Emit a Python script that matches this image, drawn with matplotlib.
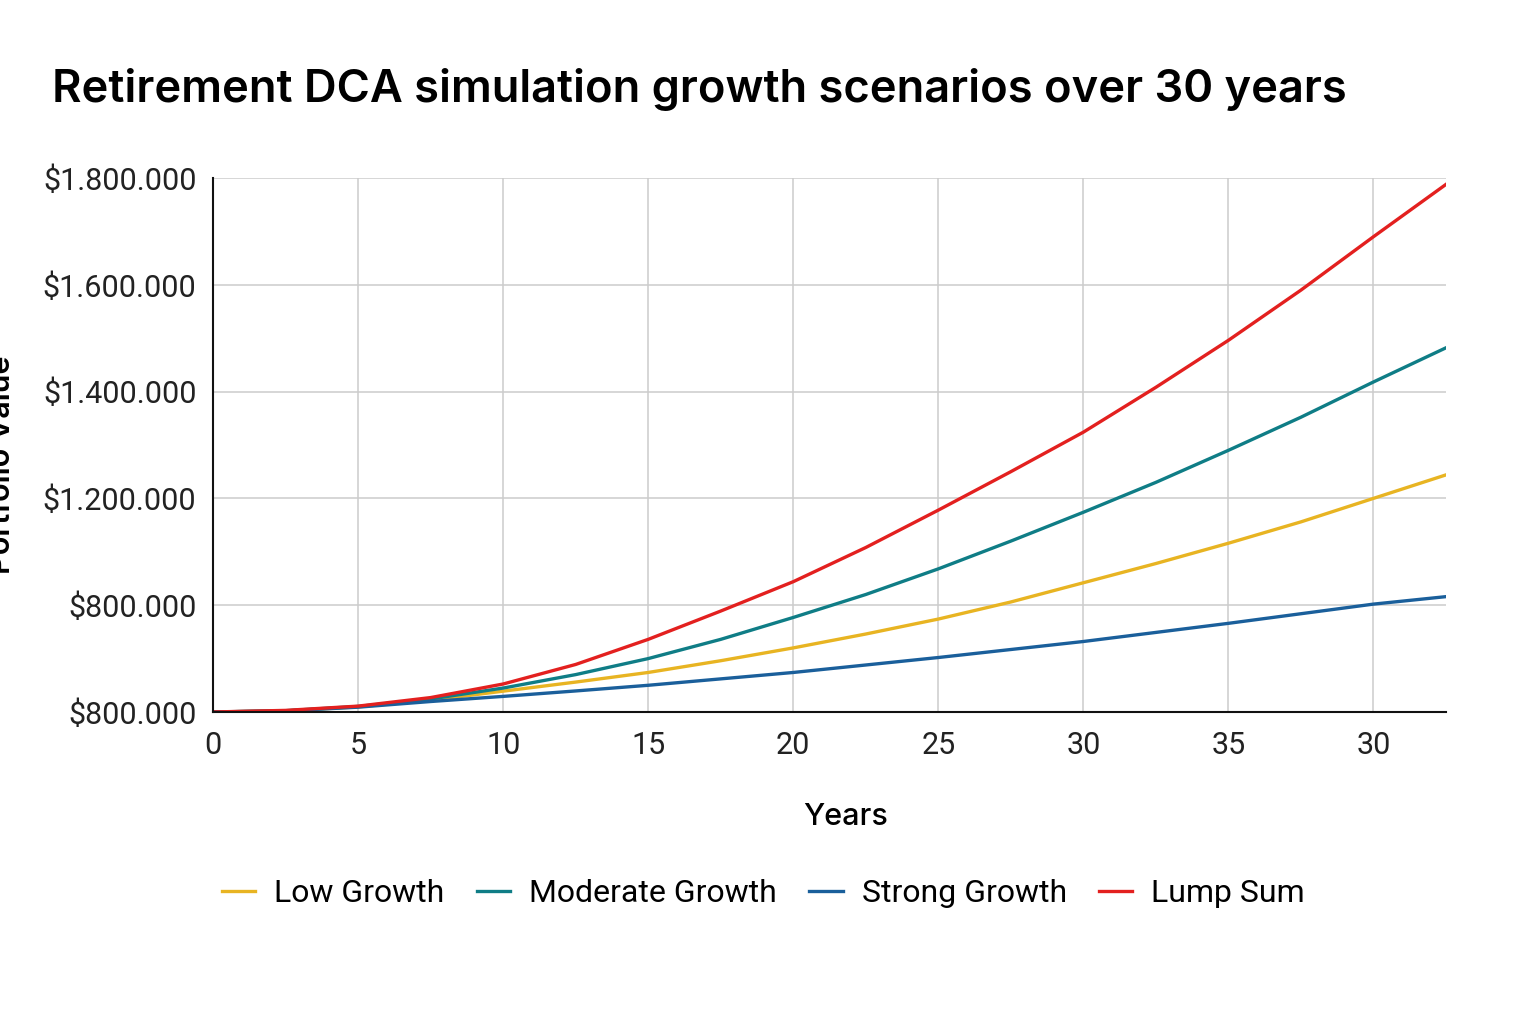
import matplotlib.pyplot as plt
import numpy as np

# Data (portfolio value in dollars)
years = [0, 2.5, 5, 7.5, 10, 12.5, 15, 17.5, 20, 22.5, 25, 27.5, 30, 32.5, 35, 37.5, 40, 42.5]

low_growth = [800000, 802000, 809600, 822000, 839000, 856000, 874000, 896000, 920000,
              946000, 974000, 1006000, 1042000, 1078000, 1116000, 1156000, 1200000, 1244000]
moderate_growth = [800000, 802400, 810400, 824400, 844800, 870000, 900000, 936000, 977000,
                   1020000, 1068000, 1120000, 1174000, 1230000, 1290000, 1352000, 1418000, 1482000]
strong_growth = [800000, 802000, 809000, 819600, 829200, 839400, 850000, 862000, 874000,
                 888000, 902000, 917000, 932000, 949000, 966000, 984000, 1002000, 1016000]
lump_sum = [800000, 803000, 811000, 827000, 852400, 889000, 936000, 989000, 1044000,
            1108000, 1178000, 1250000, 1324000, 1408000, 1496000, 1590000, 1690000, 1788000]

x_ticks = [0, 5, 10, 15, 20, 25, 30, 35, 40]
x_labels = ['0', '5', '10', '15', '20', '25', '30', '35', '30']
y_ticks = [800000, 1000000, 1200000, 1400000, 1600000, 1800000]
y_labels = ['$800.000', '$800.000', '$1.200.000', '$1.400.000', '$1.600.000', '$1.800.000']

colors = {
    'Low Growth': '#E8B422',
    'Moderate Growth': '#0F7D86',
    'Strong Growth': '#1A5F9B',
    'Lump Sum': '#E3201F',
}

fig = plt.figure(figsize=(15.36, 10.24), dpi=100)
ax = fig.add_axes([0.1387, 0.3047, 0.8027, 0.5215])

ax.plot(years, low_growth, color=colors['Low Growth'], lw=2.4, label='Low Growth')
ax.plot(years, moderate_growth, color=colors['Moderate Growth'], lw=2.4, label='Moderate Growth')
ax.plot(years, strong_growth, color=colors['Strong Growth'], lw=2.4, label='Strong Growth')
ax.plot(years, lump_sum, color=colors['Lump Sum'], lw=2.4, label='Lump Sum')

ax.set_xlim(0, 42.5)
ax.set_ylim(800000, 1800000)
ax.set_xticks(x_ticks)
ax.set_xticklabels(x_labels, fontsize=22, family='Roboto', color='#222222')
ax.set_yticks(y_ticks)
ax.set_yticklabels(y_labels, fontsize=22, family='Roboto', color='#222222')
ax.tick_params(axis='both', length=0)
ax.tick_params(axis='x', pad=14)
ax.tick_params(axis='y', pad=12)

ax.grid(True, color='#cccccc', lw=1.1)
ax.set_axisbelow(True)
for side in ['top', 'right']:
    ax.spines[side].set_visible(False)
for side in ['left', 'bottom']:
    ax.spines[side].set_color('#111111')
    ax.spines[side].set_linewidth(1.5)

ax.set_xlabel('Years', fontsize=22, family='Inter', fontweight='medium', labelpad=36)
ax.xaxis.set_label_coords(0.513, -0.17)

fig.text(0.034, 0.913, 'Retirement DCA simulation growth scenarios over 30 years',
         fontsize=32.6, family='Inter', fontweight='semibold', ha='left', va='center')

fig.text(0.001, 0.546, 'Portfolio Value', rotation=90, fontsize=22, family='Inter',
         fontweight='semibold', ha='center', va='center')

fig.legend(loc='center', bbox_to_anchor=(0.497, 0.127), ncol=4, frameon=False,
           prop={'family': 'Roboto', 'size': 23}, handlelength=1.05, handletextpad=0.6,
           columnspacing=1.0)

fig.savefig('out.png', dpi=100)
